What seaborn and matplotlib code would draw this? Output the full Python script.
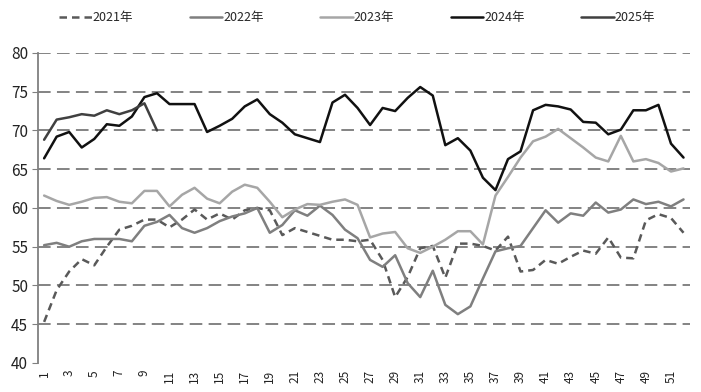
import numpy as np
import pandas as pd
import matplotlib
matplotlib.use("Agg")
import matplotlib.pyplot as plt
import seaborn as sns

weeks = list(range(1, 53))

y2021 = [45.3, 49.4, 51.8, 53.4, 52.6, 55.0, 57.2, 57.7, 58.5, 58.5,
         57.5, 58.5, 59.8, 58.5, 59.3, 58.5, 59.7, 60.0, 59.7, 56.5,
         57.4, 56.9, 56.4, 55.9, 55.9, 55.7, 55.9, 53.3, 48.5, 51.1,
         54.8, 55.1, 51.0, 55.4, 55.4, 55.1, 54.5, 56.3, 51.8, 52.0,
         53.3, 52.8, 53.7, 54.5, 54.1, 56.2, 53.6, 53.5, 58.4, 59.2,
         58.7, 56.8]
y2022 = [55.2, 55.5, 55.0, 55.7, 56.0, 56.0, 56.0, 55.7, 57.7, 58.2,
         59.1, 57.4, 56.8, 57.4, 58.3, 58.9, 59.3, 60.0, 56.8, 57.8,
         59.7, 59.0, 60.3, 59.1, 57.2, 56.1, 53.3, 52.4, 53.9, 50.3,
         48.5, 51.9, 47.5, 46.3, 47.3, 50.9, 54.4, 54.8, 55.1, 57.4,
         59.7, 58.1, 59.3, 59.0, 60.7, 59.4, 59.8, 61.1, 60.5, 60.8,
         60.2, 61.1]
y2023 = [61.6, 60.9, 60.4, 60.8, 61.3, 61.4, 60.8, 60.6, 62.2, 62.2,
         60.2, 61.7, 62.6, 61.2, 60.6, 62.1, 63.0, 62.6, 60.8, 58.8,
         59.8, 60.5, 60.4, 60.8, 61.1, 60.4, 56.2, 56.7, 56.9, 54.8,
         54.2, 55.0, 55.9, 57.0, 57.0, 55.3, 61.6, 64.0, 66.5, 68.6,
         69.2, 70.2, 69.0, 67.8, 66.5, 66.0, 69.3, 66.0, 66.3, 65.8,
         64.7, 65.1]
y2024 = [66.4, 69.2, 69.8, 67.8, 68.9, 70.8, 70.6, 71.8, 74.3, 74.8,
         73.4, 73.4, 73.4, 69.8, 70.6, 71.5, 73.1, 74.0, 72.1, 71.0,
         69.5, 69.0, 68.5, 73.6, 74.6, 72.9, 70.7, 72.9, 72.5, 74.2,
         75.6, 74.5, 68.1, 69.0, 67.4, 63.9, 62.3, 66.3, 67.3, 72.6,
         73.3, 73.1, 72.7, 71.1, 71.0, 69.5, 70.1, 72.6, 72.6, 73.3,
         68.3, 66.5]
y2025 = [68.8, 71.4, 71.7, 72.1, 71.9, 72.6, 72.1, 72.6, 73.5, 70.0]

series = [
    ("2021年", y2021, "#595959", (3, 2)),
    ("2022年", y2022, "#7f7f7f", None),
    ("2023年", y2023, "#a6a6a6", None),
    ("2024年", y2024, "#111111", None),
    ("2025年", y2025, "#404040", None),
]

sns.set_style("white")
plt.rcParams["font.family"] = ["Noto Sans CJK SC", "DejaVu Sans"]

fig = plt.figure(figsize=(7.01, 3.92), dpi=100)
ax = fig.add_axes([0.054, 0.074, 0.930, 0.791])

for name, vals, color, dash in series:
    df = pd.DataFrame({"week": weeks[:len(vals)], "value": vals})
    sns.lineplot(data=df, x="week", y="value", ax=ax, color=color,
                 linewidth=1.8, label=name)
    if dash is not None:
        ax.lines[-1].set_dashes(dash)

ax.set_xlim(0.5, 52.5)
ax.set_ylim(40, 80)
ax.set_yticks(range(40, 81, 5))
ax.set_xticks(range(1, 53, 2))
ax.set_xticklabels([str(w) for w in range(1, 53, 2)], rotation=90,
                   fontsize=8.5, color="#222222")
ax.tick_params(axis="y", labelsize=11, length=4, width=0.8, color="#808080",
               labelcolor="#222222", left=True, pad=3)
ax.tick_params(axis="x", length=0, pad=5)
ax.set_xlabel("")
ax.set_ylabel("")

for v in range(45, 81, 5):
    ax.axhline(v, color="#7a7a7a", linewidth=1.3, dashes=(7, 3.5), zorder=0)

for s in ["top", "right", "bottom"]:
    ax.spines[s].set_visible(False)
ax.spines["left"].set_color("#808080")
ax.spines["left"].set_linewidth(1.3)

ax.legend(loc="center", bbox_to_anchor=(0.49, 1.113), ncol=5,
          frameon=False, fontsize=9, handlelength=2.6, handletextpad=0.1,
          columnspacing=4.5)

fig.savefig("out.png", dpi=100)
